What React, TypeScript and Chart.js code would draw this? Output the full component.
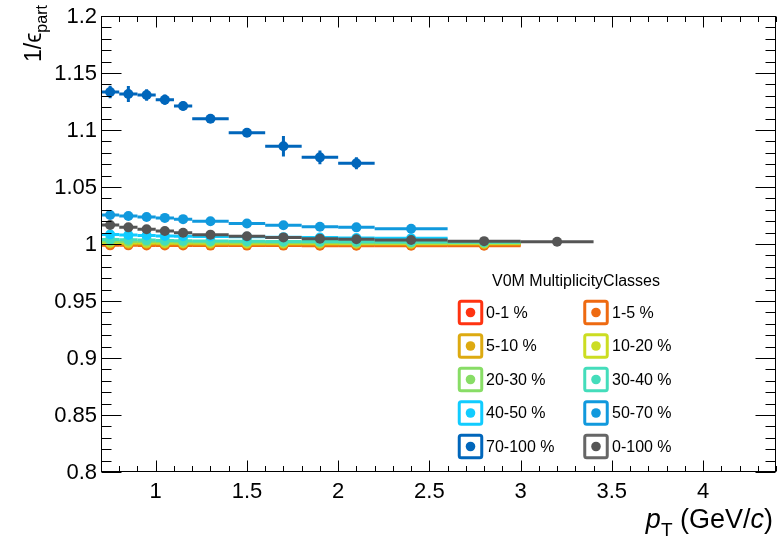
import React, { useEffect, useRef } from 'react';
import { Chart, registerables } from 'chart.js';

Chart.register(...registerables);

// ---------- data ----------
const seriesLabels = ['0-1 %', '1-5 %', '5-10 %', '10-20 %', '20-30 %', '30-40 %', '40-50 %', '50-70 %', '70-100 %', '0-100 %'];
const seriesColors = ['#ff3311', '#ee6a11', '#ddaa11', '#ccdd22', '#88dd66', '#44ddbb', '#11ccff', '#1199dd', '#0066bb', '#555555'];
const legendBoxColors = ['#ff3311', '#ee6a11', '#ddaa11', '#ccdd22', '#88dd66', '#44ddbb', '#11ccff', '#1199dd', '#0066bb', '#666666'];

const binCenters = [0.75, 0.85, 0.95, 1.05, 1.15, 1.3, 1.5, 1.7, 1.9, 2.1, 2.4, 2.8, 3.2];
const binHalfWidths = [0.05, 0.05, 0.05, 0.05, 0.05, 0.1, 0.1, 0.1, 0.1, 0.1, 0.2, 0.2, 0.2];

const vals0to1 = [0.9995, 0.9995, 0.9994, 0.9994, 0.9993, 0.9993, 0.9993, 0.9992, 0.9992, 0.9992, 0.9991, 0.9991];
const vals1to5 = [0.9988, 0.9988, 0.9987, 0.9987, 0.9987, 0.9986, 0.9986, 0.9986, 0.9985, 0.9985, 0.9985, 0.9985];
const vals5to10 = [1.0004, 1.0003, 1.0003, 1.0002, 1.0002, 1.0001, 1.0001, 1.0000, 1.0000, 1.0000, 0.9999, 0.9999];
const vals10to20 = [1.0012, 1.0011, 1.0010, 1.0009, 1.0008, 1.0008, 1.0007, 1.0006, 1.0006, 1.0005, 1.0005, 1.0004];
const vals20to30 = [1.0025, 1.0023, 1.0021, 1.0019, 1.0018, 1.0017, 1.0015, 1.0014, 1.0013, 1.0012, 1.0011, 1.0010];
const vals30to40 = [1.0040, 1.0037, 1.0034, 1.0031, 1.0029, 1.0027, 1.0025, 1.0023, 1.0021, 1.0020, 1.0018, 1.0016];
const vals40to50 = [1.0083, 1.0079, 1.0075, 1.0071, 1.0068, 1.0066, 1.0064, 1.0060, 1.0056, 1.0053, 1.0050];
const vals50to70 = [1.0254, 1.0246, 1.0237, 1.0229, 1.0218, 1.0200, 1.0180, 1.0165, 1.0152, 1.0146, 1.0133];
const vals70to100 = [1.1333, 1.1316, 1.1307, 1.1266, 1.1211, 1.1099, 1.0976, 1.0857, 1.0760, 1.0708];
const vals0to100 = [1.0167, 1.0146, 1.0129, 1.0114, 1.0098, 1.0082, 1.0068, 1.0058, 1.0047, 1.0042, 1.0035, 1.0025, 1.0020];

const errs70to100 = [0.0055, 0.007, 0.005, 0.0045, 0.004, 0.003, 0.003, 0.009, 0.006, 0.0053];
const smallErr = 0.0008;

const seriesValues = [vals0to1, vals1to5, vals5to10, vals10to20, vals20to30, vals30to40, vals40to50, vals50to70, vals70to100, vals0to100];

const xMin = 0.7;
const xMax = 4.4;
const yMin = 0.8;
const yMax = 1.2;
const xTickValues = [1, 1.5, 2, 2.5, 3, 3.5, 4];
const xTickLabels = ['1', '1.5', '2', '2.5', '3', '3.5', '4'];
const yTickValues = [0.8, 0.85, 0.9, 0.95, 1, 1.05, 1.1, 1.15, 1.2];
const yTickLabels = ['0.8', '0.85', '0.9', '0.95', '1', '1.05', '1.1', '1.15', '1.2'];
const legendTitle = 'V0M MultiplicityClasses';

const FONT = '"Liberation Sans", Arial, Helvetica, sans-serif';

// ---------- plugins ----------
const errorBarPlugin = {
  id: 'rootErrorBars',
  beforeDatasetDraw(chart: any, args: any) {
    const ds = chart.data.datasets[args.index];
    const xs = chart.scales.x;
    const ys = chart.scales.y;
    const ctx = chart.ctx;
    const a = chart.chartArea;
    ctx.save();
    ctx.beginPath();
    ctx.rect(a.left, a.top, a.right - a.left, a.bottom - a.top);
    ctx.clip();
    ctx.strokeStyle = ds.backgroundColor;
    ctx.lineWidth = 3;
    ctx.lineCap = 'butt';
    ds.data.forEach((p: any, i: number) => {
      const xl = xs.getPixelForValue(p.x - ds.xErr[i]);
      const xr = xs.getPixelForValue(p.x + ds.xErr[i]);
      const yc = ys.getPixelForValue(p.y);
      const yt = ys.getPixelForValue(p.y + ds.yErr[i]);
      const yb = ys.getPixelForValue(p.y - ds.yErr[i]);
      const xc = xs.getPixelForValue(p.x);
      ctx.beginPath();
      ctx.moveTo(xl, yc);
      ctx.lineTo(xr, yc);
      ctx.moveTo(xc, yt);
      ctx.lineTo(xc, yb);
      ctx.stroke();
    });
    ctx.restore();
  },
};

const framePlugin = {
  id: 'rootFrame',
  afterDraw(chart: any) {
    const ctx = chart.ctx;
    const a = chart.chartArea;
    const xs = chart.scales.x;
    const ys = chart.scales.y;
    ctx.save();
    ctx.strokeStyle = '#000';
    ctx.lineWidth = 1;
    const L = Math.round(a.left) + 0.5;
    const R = Math.round(a.right) - 0.5;
    const T = Math.round(a.top) + 0.5;
    const B = Math.round(a.bottom) - 0.5;
    ctx.strokeRect(L, T, R - L, B - T);

    // y ticks
    ctx.beginPath();
    for (let i = 0; i <= 40; i++) {
      const v = yMin + i * 0.01;
      const y = Math.round(ys.getPixelForValue(v)) + 0.5;
      const len = i % 5 === 0 ? 20 : 10;
      ctx.moveTo(L, y);
      ctx.lineTo(L + len, y);
      ctx.moveTo(R, y);
      ctx.lineTo(R - len, y);
    }
    // x ticks
    for (let i = 0; i <= 37; i++) {
      const v = xMin + i * 0.1;
      const x = Math.round(xs.getPixelForValue(v)) + 0.5;
      const len = (i + 7) % 5 === 0 ? 11 : 5.5;
      ctx.moveTo(x, B);
      ctx.lineTo(x, B - len);
      ctx.moveTo(x, T);
      ctx.lineTo(x, T + len);
    }
    ctx.stroke();

    // tick labels
    ctx.fillStyle = '#000';
    ctx.font = `22px ${FONT}`;
    ctx.textAlign = 'right';
    ctx.textBaseline = 'middle';
    yTickValues.forEach((v, i) => {
      ctx.fillText(yTickLabels[i], a.left - 4, ys.getPixelForValue(v) + 1);
    });
    ctx.textAlign = 'center';
    ctx.textBaseline = 'alphabetic';
    xTickValues.forEach((v, i) => {
      ctx.fillText(xTickLabels[i], xs.getPixelForValue(v), a.bottom + 26);
    });

    // x title: p_T (GeV/c)
    const right = 773;
    const base = 528;
    ctx.textAlign = 'left';
    const fMain = `27px ${FONT}`;
    const fIt = `italic 27px ${FONT}`;
    const fSub = `19px ${FONT}`;
    ctx.font = fMain;
    const w1 = ctx.measureText(' (GeV/').width;
    const w3 = ctx.measureText(')').width;
    ctx.font = fIt;
    const wp = ctx.measureText('p').width;
    const wc = ctx.measureText('c').width;
    ctx.font = fSub;
    const wT = ctx.measureText('T').width;
    let x = right - (wp + wT + w1 + wc + w3);
    ctx.font = fIt;
    ctx.fillText('p', x, base);
    x += wp;
    ctx.font = fSub;
    ctx.fillText('T', x, base + 8);
    x += wT;
    ctx.font = fMain;
    ctx.fillText(' (GeV/', x, base);
    x += w1;
    ctx.font = fIt;
    ctx.fillText('c', x, base);
    x += wc;
    ctx.font = fMain;
    ctx.fillText(')', x, base);

    // y title: 1/ϵ_part
    ctx.save();
    ctx.translate(41, 62);
    ctx.rotate(-Math.PI / 2);
    ctx.font = `23px ${FONT}`;
    ctx.fillText('1/\u03F5', 0, 0);
    const wm = ctx.measureText('1/\u03F5').width;
    ctx.font = `16px ${FONT}`;
    ctx.fillText('part', wm, 6);
    ctx.restore();

    // legend
    ctx.font = `16px ${FONT}`;
    ctx.textAlign = 'center';
    ctx.textBaseline = 'alphabetic';
    ctx.fillText(legendTitle, 576, 286);
    const colBox = [470.5, 596];
    const colText = [486, 612];
    ctx.textAlign = 'left';
    ctx.textBaseline = 'middle';
    seriesLabels.forEach((lab, i) => {
      const col = i % 2;
      const row = Math.floor(i / 2);
      const cy = 312.5 + row * 33.5;
      const cx = colBox[col];
      ctx.strokeStyle = legendBoxColors[i];
      ctx.lineWidth = 3;
      const s = 22.5;
      ctx.beginPath();
      if (ctx.roundRect) ctx.roundRect(cx - s / 2, cy - s / 2, s, s, 2);
      else ctx.rect(cx - s / 2, cy - s / 2, s, s);
      ctx.stroke();
      ctx.fillStyle = seriesColors[i];
      ctx.beginPath();
      ctx.arc(cx, cy, 4.8, 0, Math.PI * 2);
      ctx.fill();
      ctx.fillStyle = '#000';
      ctx.fillText(lab, colText[col], cy + 1);
    });
    ctx.restore();
  },
};

export default function App() {
  const canvasRef = useRef<HTMLCanvasElement | null>(null);

  useEffect(() => {
    document.body.style.margin = '0';
    const canvas = canvasRef.current;
    if (!canvas) return;
    const n = seriesValues.length;
    const datasets = seriesValues.map((vals, si) => ({
      label: seriesLabels[si],
      data: vals.map((v, i) => ({ x: binCenters[i], y: v })),
      xErr: vals.map((_, i) => binHalfWidths[i]),
      yErr: vals.map((_, i) => (si === 8 ? errs70to100[i] : smallErr)),
      backgroundColor: seriesColors[si],
      borderColor: seriesColors[si],
      pointRadius: 5,
      pointHoverRadius: 5,
      borderWidth: 0,
      showLine: false,
      order: n - si,
    }));
    const chart = new Chart(canvas, {
      type: 'scatter',
      data: { datasets: datasets as any },
      options: {
        animation: false,
        responsive: false,
        devicePixelRatio: 1,
        layout: { padding: { left: 101, right: 6, top: 16, bottom: 68 } },
        plugins: { legend: { display: false }, tooltip: { enabled: false } },
        events: [],
        scales: {
          x: { type: 'linear', min: xMin, max: xMax, display: false },
          y: { type: 'linear', min: yMin, max: yMax, display: false },
        },
      },
      plugins: [errorBarPlugin, framePlugin],
    });
    return () => chart.destroy();
  }, []);

  return (
    <div style={{ width: 782, height: 540, background: '#fff' }}>
      <canvas ref={canvasRef} width={782} height={540} style={{ display: 'block' }} />
    </div>
  );
}
